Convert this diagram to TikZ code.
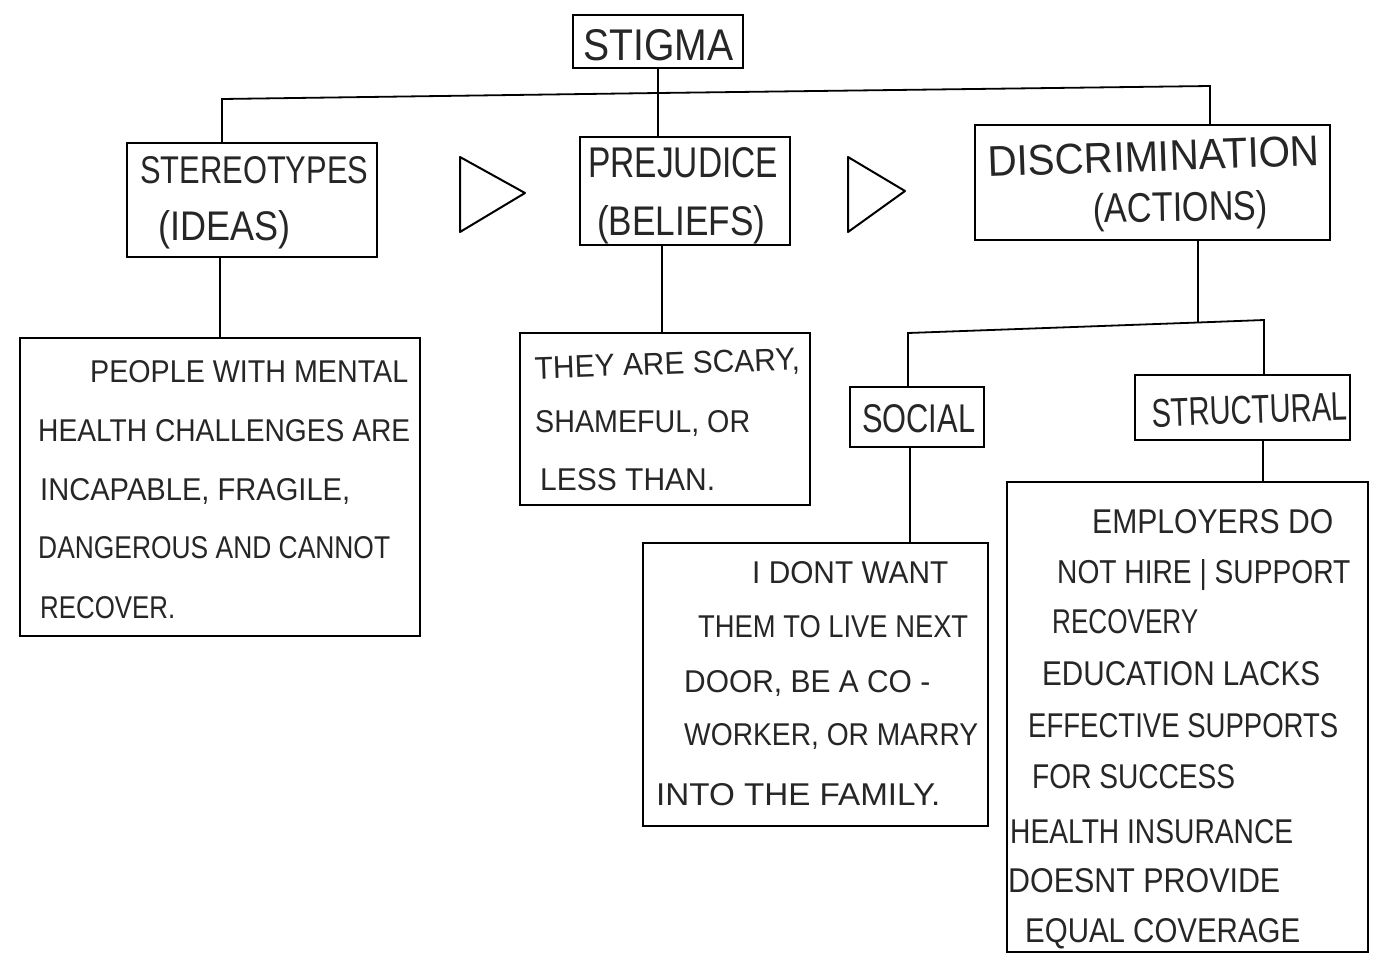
\documentclass[tikz,border=0pt]{standalone}
\usepackage{fontspec}
\setmainfont{Liberation Sans}
\usepackage{graphicx}
\newcommand{\hw}[3]{\resizebox{#1pt}{#2pt}{#3}}
\begin{document}
\begin{tikzpicture}[x=1pt,y=-1pt,
  box/.style={draw, rectangle, inner sep=0pt, line width=2pt},
  txt/.style={inner sep=0pt, anchor=base west, text=black!85},
  wire/.style={line width=1.8pt},
  tri/.style={line width=2pt, line join=round}]
\useasboundingbox[fill=white] (0,0) rectangle (1376,967);

% boxes
\node[box,minimum width=170pt,minimum height=53pt] (stigma) at (658,41.5) {};
\node[box,minimum width=250pt,minimum height=114pt] (stereo) at (252,200) {};
\node[box,minimum width=210pt,minimum height=108pt] (prej) at (685,191) {};
\node[box,minimum width=355pt,minimum height=115pt] (disc) at (1152.5,182.5) {};
\node[box,minimum width=400pt,minimum height=298pt] (people) at (220,487) {};
\node[box,minimum width=290pt,minimum height=172pt] (they) at (665,419) {};
\node[box,minimum width=134pt,minimum height=60pt] (social) at (917,417) {};
\node[box,minimum width=215pt,minimum height=65pt] (struct) at (1242.5,407.5) {};
\node[box,minimum width=345pt,minimum height=283pt] (idont) at (815.5,684.5) {};
\node[box,minimum width=361pt,minimum height=470pt] (employ) at (1187.5,717) {};

% triangles
\draw[tri] (460,157) -- (460,232) -- (525,193) -- cycle;
\draw[tri] (848,157) -- (848,232) -- (905,191) -- cycle;

% connectors
\coordinate (hl) at (222,99);
\coordinate (hm) at (658,93);
\coordinate (hr) at (1210,86);
\draw[wire] (stigma.south) -- (hm) -- (hm |- prej.north);
\draw[wire] (hl |- stereo.north) -- (hl) -- (hm) -- (hr) -- (hr |- disc.north);
\coordinate (c1) at (220,0);
\draw[wire] (c1 |- stereo.south) -- (c1 |- people.north);
\coordinate (c2) at (662,0);
\draw[wire] (c2 |- prej.south) -- (c2 |- they.north);
\coordinate (bl) at (908,333);
\coordinate (bm) at (1198,322.5);
\coordinate (br) at (1264,320);
\draw[wire] (bm |- disc.south) -- (bm);
\draw[wire] (bl |- social.north) -- (bl) -- (bm) -- (br) -- (br |- struct.north);
\coordinate (c3) at (910,0);
\draw[wire] (c3 |- social.south) -- (c3 |- idont.north);
\coordinate (c4) at (1263,0);
\draw[wire] (c4 |- struct.south) -- (c4 |- employ.north);

% header texts
\node[txt] (tstigma) at (583,60) {\hw{150}{31}{STIGMA}};
\node[txt] (tstereo) at (140,183) {\hw{228}{27}{STEREOTYPES}};
\node[txt] (tideas) at (158,240) {\hw{132}{30}{(IDEAS)}};
\node[txt] (tprej) at (588,177) {\hw{190}{30}{PREJUDICE}};
\node[txt] (tbel) at (597,235) {\hw{168}{30}{(BELIEFS)}};
\node[txt,rotate=2] (tdisc) at (988,177) {\hw{332}{30}{DISCRIMINATION}};
\node[txt,rotate=1] (tact) at (1093,223) {\hw{175}{30}{(ACTIONS)}};
\node[txt] (tsoc) at (862,432) {\hw{113}{28}{SOCIAL}};
\node[txt,rotate=2] (tstr) at (1152,427) {\hw{196}{28}{STRUCTURAL}};

% people box
\node[txt] (p1) at (90,382) {\hw{318}{22}{PEOPLE WITH MENTAL}};
\node[txt] (p2) at (38,441) {\hw{372}{22}{HEALTH CHALLENGES ARE}};
\node[txt] (p3) at (40,500) {\hw{310}{22}{INCAPABLE, FRAGILE,}};
\node[txt] (p4) at (38,558) {\hw{352}{22}{DANGEROUS AND CANNOT}};
\node[txt] (p5) at (40,618) {\hw{135}{22}{RECOVER.}};

% they box
\node[txt,rotate=2] (q1) at (535,379) {\hw{265}{22}{THEY ARE SCARY,}};
\node[txt] (q2) at (535,432) {\hw{215}{22}{SHAMEFUL, OR}};
\node[txt] (q3) at (540,490) {\hw{175}{22}{LESS THAN.}};

% idont box
\node[txt] (r1) at (752,583) {\hw{196}{22}{I DONT WANT}};
\node[txt] (r2) at (698,637) {\hw{270}{22}{THEM TO LIVE NEXT}};
\node[txt] (r3) at (684,692) {\hw{246}{22}{DOOR, BE A CO -}};
\node[txt] (r4) at (684,745) {\hw{294}{22}{WORKER, OR MARRY}};
\node[txt] (r5) at (656,805) {\hw{284}{22}{INTO THE FAMILY.}};

% employ box
\node[txt] (s1) at (1092,533) {\hw{241}{24}{EMPLOYERS DO}};
\node[txt] (s2) at (1057,583) {\hw{293}{24}{NOT HIRE | SUPPORT}};
\node[txt] (s3) at (1052,633) {\hw{146}{24}{RECOVERY}};
\node[txt] (s4) at (1042,685) {\hw{278}{24}{EDUCATION LACKS}};
\node[txt] (s5) at (1028,737) {\hw{310}{24}{EFFECTIVE SUPPORTS}};
\node[txt] (s6) at (1032,788) {\hw{203}{24}{FOR SUCCESS}};
\node[txt] (s7) at (1010,843) {\hw{283}{24}{HEALTH INSURANCE}};
\node[txt] (s8) at (1008,892) {\hw{272}{24}{DOESNT PROVIDE}};
\node[txt] (s9) at (1025,942) {\hw{275}{24}{EQUAL COVERAGE}};
\end{tikzpicture}
\end{document}
